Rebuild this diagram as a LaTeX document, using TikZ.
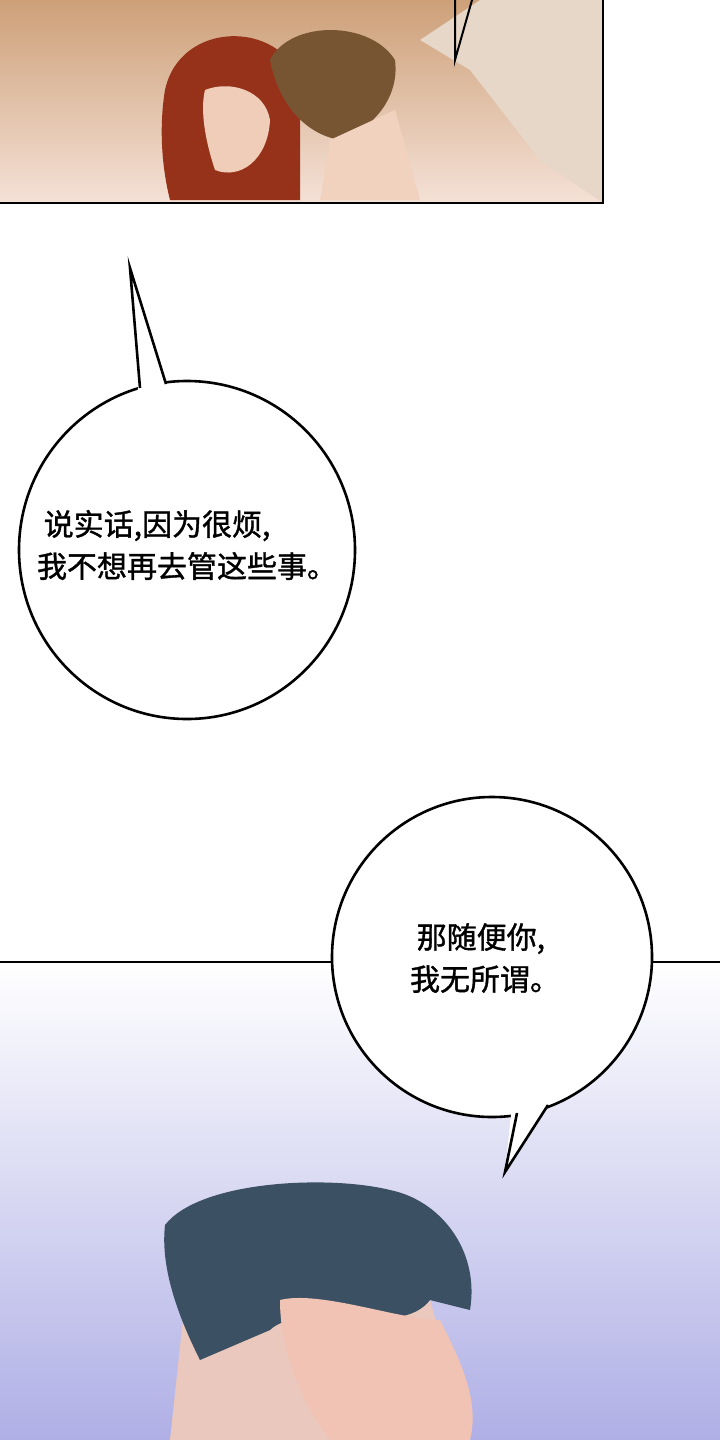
\documentclass[tikz,border=0pt]{standalone}
\usepackage{fontspec}
\usetikzlibrary{shapes.geometric}
\newfontfamily\cjk[FakeBold=1.2]{Noto Sans CJK SC}
\definecolor{bgA}{RGB}{205,160,120}
\definecolor{bgB}{RGB}{245,225,215}
\definecolor{pillow}{RGB}{230,215,200}
\definecolor{redhair}{RGB}{150,50,25}
\definecolor{skinA}{RGB}{240,205,185}
\definecolor{brownhair}{RGB}{120,85,50}
\definecolor{skinB}{RGB}{240,210,190}
\definecolor{lav}{RGB}{175,175,230}
\definecolor{skinC}{RGB}{235,200,190}
\definecolor{bluehair}{RGB}{60,80,100}
\definecolor{skinD}{RGB}{240,195,180}
\begin{document}
\begin{tikzpicture}[x=1pt,y=-1pt,
  bubble/.style={draw=black,line width=2.6pt,fill=white},
  txt/.style={font=\cjk\fontsize{30}{42}\selectfont,align=left,text=black},
  panel/.style={draw=black,line width=2.6pt}]
\useasboundingbox (0,0) rectangle (720,1440);
\fill[white] (0,0) rectangle (720,1440);
% top panel
\shade[top color=bgA,bottom color=bgB] (0,0) rectangle (603,203);
\fill[pillow] (420,40) -- (480,0) -- (603,0) -- (603,203) -- (540,160) -- (470,70) -- cycle;
\fill[redhair] (165,90) .. controls (180,20) and (280,20) .. (300,80) -- (300,200) -- (170,200) .. controls (160,160) and (160,120) .. (165,90);
\fill[skinA] (205,90) .. controls (230,80) and (265,90) .. (270,120) .. controls (268,160) and (240,180) .. (215,170) .. controls (205,140) and (200,110) .. (205,90);
\fill[brownhair] (270,60) .. controls (290,20) and (370,20) .. (395,60) .. controls (400,100) and (370,130) .. (340,140) .. controls (310,135) and (280,110) .. (270,60);
\fill[skinB] (330,140) -- (395,110) -- (420,200) -- (320,200) -- cycle;
\draw[panel] (0,203) -- (603,203) -- (603,0);
\draw[line width=2pt] (455,0) -- (455,60) -- (472,0);
% bubble 1
\node[bubble,ellipse,minimum width=336pt,minimum height=338pt,inner sep=0pt] (b1) at (187,550) {};
\fill[white] (138,390) -- (130,268) -- (168,388) -- cycle;
\draw[line width=2.6pt,line join=miter] (140,388) -- (130,268) -- (166,384);
\node[txt] (t1) at (187,545) {\ 说实话,因为很烦,\\我不想再去管这些事。};
% bottom panel
\shade[top color=white,bottom color=lav] (0,962) rectangle (720,1440);
\fill[skinC] (185,1300) -- (430,1300) -- (470,1440) -- (170,1440) -- cycle;
\fill[bluehair] (165,1225) .. controls (200,1180) and (330,1175) .. (390,1190) .. controls (440,1200) and (480,1250) .. (470,1310) -- (430,1300) .. controls (400,1340) and (300,1300) .. (270,1330) -- (200,1360) .. controls (180,1320) and (160,1270) .. (165,1225);
\fill[skinD] (280,1300) .. controls (320,1290) and (400,1320) .. (440,1320) .. controls (460,1360) and (480,1400) .. (470,1440) -- (330,1440) .. controls (300,1400) and (280,1350) .. (280,1300);
\draw[panel] (0,962) -- (720,962);
% bubble 2
\node[bubble,circle,minimum size=320pt,inner sep=0pt] (b2) at (492,957) {};
\fill[white] (512,1105) -- (505,1172) -- (550,1100) -- cycle;
\draw[line width=2.6pt,line join=miter] (517,1113) -- (505,1172) -- (548,1105);
\node[txt] (t2) at (485,958) {\ 那随便你,\\我无所谓。};
\end{tikzpicture}
\end{document}
